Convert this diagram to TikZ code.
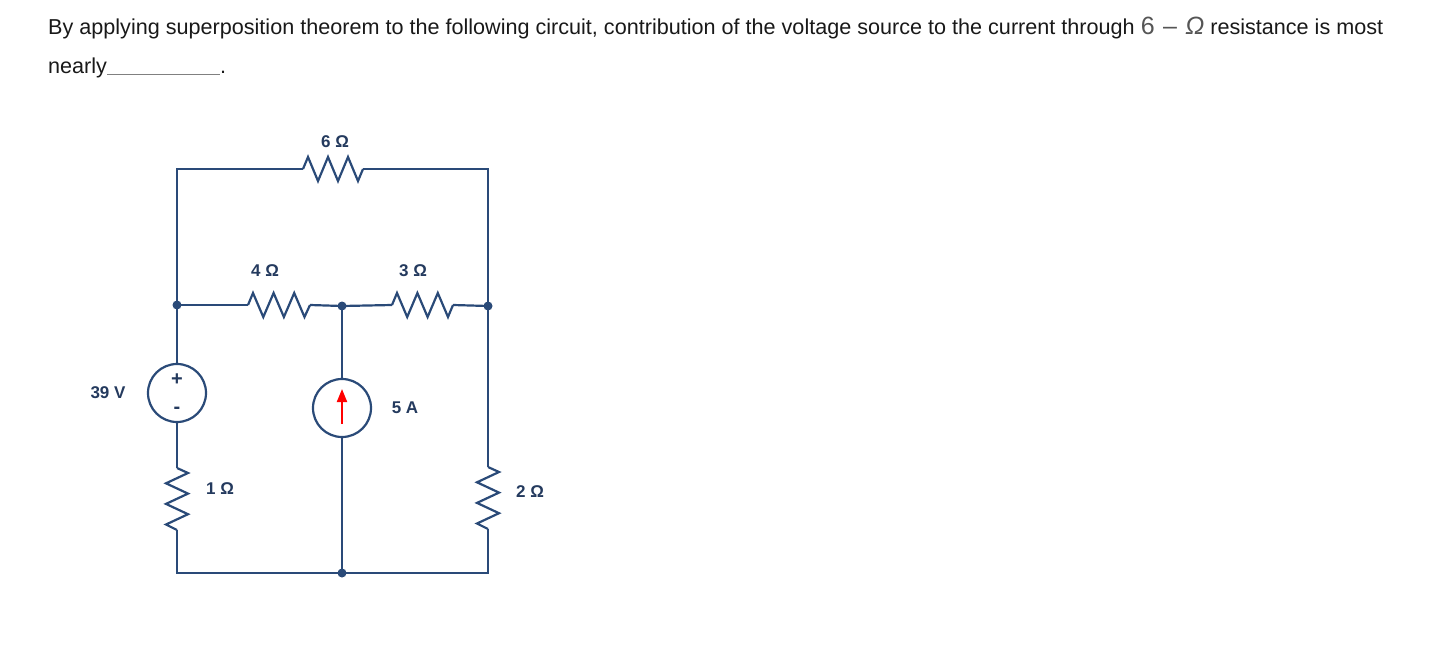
\documentclass[tikz,border=0pt]{standalone}
\usepackage{fontspec}
\setmainfont{Liberation Sans}
\usetikzlibrary{arrows.meta}
\definecolor{wire}{RGB}{42,74,120}
\definecolor{lbl}{RGB}{36,58,94}
\definecolor{txt}{RGB}{25,25,25}
\definecolor{mathgray}{RGB}{85,85,85}
\begin{document}
\begin{tikzpicture}[x=1pt,y=-1pt,
  wireline/.style={draw=wire,line width=2.2pt,line join=miter},
  dotnode/.style={circle,fill=wire,inner sep=0pt,minimum size=9pt},
  srcnode/.style={circle,draw=wire,line width=2.2pt,minimum size=58pt,inner sep=0pt,fill=white},
  lab/.style={text=lbl,font=\fontsize{17}{20}\selectfont\bfseries,inner sep=0pt},
  head/.style={text=txt,font=\fontsize{21.6}{24}\selectfont,inner sep=0pt,anchor=base west}]
\useasboundingbox (0,0) rectangle (1434,648);
% header text
\node[head] (t1) at (48,34) {By applying superposition theorem to the following circuit, contribution of the voltage source to the current through {\color{mathgray}\fontsize{25}{26}\selectfont 6\,\,\textendash\,\,\textit{Ω}} resistance is most};
\node[head] (t2) at (48,73) {nearly{\color{gray}\rule[-1.5pt]{113pt}{1pt}}.};
% coordinates
\coordinate (TL) at (177,169);
\coordinate (TR) at (488,169);
\coordinate (R6a) at (303,169);
\coordinate (R6b) at (363,169);
\coordinate (R4a) at (248,305);
\coordinate (R4b) at (310,305);
\coordinate (R3a) at (392,305);
\coordinate (R3b) at (453,305);
\coordinate (R1a) at (177,468);
\coordinate (R1b) at (177,530);
\coordinate (R2a) at (488,467);
\coordinate (R2b) at (488,529);
\coordinate (BL) at (177,573);
\coordinate (BR) at (488,573);
\node[dotnode] (ML) at (177,305) {};
\node[dotnode] (MM) at (342,306) {};
\node[dotnode] (MR) at (488,306) {};
\node[dotnode] (BM) at (342,573) {};
\node[srcnode] (V) at (177,393) {};
\node[srcnode] (I) at (342,408) {};
% wires
\draw[wireline] (R6a) -- (TL) -- (ML.center);
\draw[wireline] (R6b) -- (TR) -- (MR.center);
\draw[wireline] (ML.center) -- (R4a);
\draw[wireline] (R4b) -- (MM.center) -- (R3a);
\draw[wireline] (R3b) -- (MR.center);
\draw[wireline] (ML.center) -- (V.north);
\draw[wireline] (V.south) -- (R1a);
\draw[wireline] (R1b) -- (BL) -- (BM.center) -- (BR) -- (R2b);
\draw[wireline] (MR.center) -- (R2a);
\draw[wireline] (MM.center) -- (I.north);
\draw[wireline] (I.south) -- (BM.center);
% resistors horizontal
\draw[wireline] (R6a) -- ++(5,-12) -- ++(10,24) -- ++(10,-24) -- ++(10,24) -- ++(10,-24) -- ++(10,24) -- (R6b);
\draw[wireline] (R4a) -- ++(5,-12) -- ++(10.3,24) -- ++(10.3,-24) -- ++(10.3,24) -- ++(10.3,-24) -- ++(10.3,24) -- (R4b);
\draw[wireline] (R3a) -- ++(5,-12) -- ++(10.2,24) -- ++(10.2,-24) -- ++(10.2,24) -- ++(10.2,-24) -- ++(10.2,24) -- (R3b);
% resistors vertical
\draw[wireline] (R1a) -- ++(11,5) -- ++(-22,10.3) -- ++(22,10.3) -- ++(-22,10.3) -- ++(22,10.3) -- ++(-22,10.3) -- (R1b);
\draw[wireline] (R2a) -- ++(11,5) -- ++(-22,10.3) -- ++(22,10.3) -- ++(-22,10.3) -- ++(22,10.3) -- ++(-22,10.3) -- (R2b);
% source symbols
\node[lab,font=\fontsize{20}{20}\selectfont\bfseries] (vp) at (177,380) {+};
\node[lab,font=\fontsize{20}{20}\selectfont\bfseries] (vm) at (177,410) {-};
\coordinate (Ia) at (342,424);
\coordinate (Ib) at (342,389);
\draw[red,line width=2pt,-{Triangle[length=13pt,width=10pt]}] (Ia) -- (Ib);
% labels
\node[lab] (l6) at (335,142) {6 Ω};
\node[lab] (l4) at (265,271) {4 Ω};
\node[lab] (l3) at (413,271) {3 Ω};
\node[lab] (l39) at (108,393) {39 V};
\node[lab] (l5) at (405,408) {5 A};
\node[lab] (l1) at (220,489) {1 Ω};
\node[lab] (l2) at (530,492) {2 Ω};
\end{tikzpicture}
\end{document}
